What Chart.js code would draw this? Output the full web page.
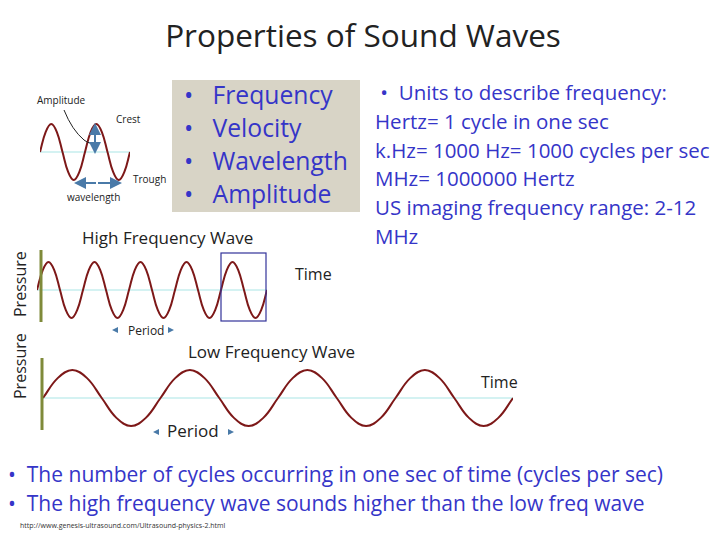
<!DOCTYPE html>
<html>
<head>
<meta charset="utf-8">
<script src="https://cdn.jsdelivr.net/npm/chart.js@4.4.1/dist/chart.umd.min.js"></script>
<style>
body { margin:0; width:720px; height:540px; background:#fff; position:relative; overflow:hidden; font-family:"Open Sans","Liberation Sans",sans-serif; }
.t { position:absolute; white-space:nowrap; }
.blue { color:#3535c8; }
canvas { position:absolute; }
</style>
</head>
<body>
<div class="t" style="left:0;width:726px;top:13px;text-align:center;font-size:31.5px;color:#222;">Properties of Sound Waves</div>

<div style="position:absolute;left:172px;top:80px;width:188px;height:132px;background:#d8d4c6;"></div>
<div class="t blue" style="left:184px;top:78px;font-size:24.7px;line-height:33px;">
•&nbsp;&nbsp;&nbsp;Frequency<br>•&nbsp;&nbsp;&nbsp;Velocity<br>•&nbsp;&nbsp;&nbsp;Wavelength<br>•&nbsp;&nbsp;&nbsp;Amplitude</div>
<div class="t blue" style="left:375px;top:78px;font-size:20.5px;line-height:28.8px;">
&nbsp;•&nbsp;&nbsp;Units to describe frequency:<br>Hertz= 1 cycle in one sec<br>k.Hz= 1000 Hz= 1000 cycles per sec<br>MHz= 1000000 Hertz<br>US imaging frequency range: 2-12<br>MHz</div>

<div class="t" style="left:37px;top:93px;font-size:10px;color:#222;">Amplitude</div>
<div class="t" style="left:116px;top:112px;font-size:10px;color:#222;">Crest</div>
<div class="t" style="left:133px;top:172px;font-size:10px;color:#222;">Trough</div>
<div class="t" style="left:67px;top:190px;font-size:10px;color:#222;">wavelength</div>

<div class="t" style="left:82px;top:226px;font-size:17px;color:#222;">High Frequency Wave</div>
<div class="t" style="left:295px;top:263px;font-size:16px;color:#222;">Time</div>
<div class="t" style="left:128px;top:322px;font-size:12px;color:#222;">Period</div>
<div class="t" style="left:188px;top:340px;font-size:17px;color:#222;">Low Frequency Wave</div>
<div class="t" style="left:481px;top:371px;font-size:16px;color:#222;">Time</div>
<div class="t" style="left:167px;top:419px;font-size:17px;color:#222;">Period</div>
<div class="t" style="left:-12px;top:274px;font-size:16px;color:#222;transform:rotate(-90deg);transform-origin:center;width:64px;text-align:center;">Pressure</div>
<div class="t" style="left:-12px;top:356px;font-size:16px;color:#222;transform:rotate(-90deg);transform-origin:center;width:64px;text-align:center;">Pressure</div>

<div class="t blue" style="left:8px;top:460px;font-size:21px;line-height:29px;">
•&nbsp;&nbsp;The number of cycles occurring in one sec of time (cycles per sec)<br>•&nbsp;&nbsp;The high frequency wave sounds higher than the low freq wave</div>
<div class="t" style="left:20px;top:521px;font-size:7px;color:#333;">http://www.genesis-ultrasound.com/Ultrasound-physics-2.html</div>

<canvas id="small"></canvas>
<canvas id="high"></canvas>
<canvas id="low"></canvas>

<svg width="720" height="540" style="position:absolute;left:0;top:0;pointer-events:none;">
  <defs>
    <marker id="ah" markerWidth="6" markerHeight="6" refX="5" refY="3" orient="auto"><path d="M0,0 L6,3 L0,6 z" fill="#4a7aa8"/></marker>
  </defs>
  <path d="M64,110 Q72,130 84,140 Q88,143 90,143" stroke="#222" fill="none" stroke-width="1"/>
  <line x1="95" y1="145" x2="95" y2="125" stroke="#4a7aa8" stroke-width="2" marker-end="url(#ah)"/>
  <line x1="95" y1="135" x2="95" y2="152" stroke="#4a7aa8" stroke-width="2" marker-end="url(#ah)"/>
  <line x1="96" y1="183" x2="76" y2="183" stroke="#4a7aa8" stroke-width="2" marker-end="url(#ah)"/>
  <line x1="98" y1="183" x2="120" y2="183" stroke="#4a7aa8" stroke-width="2" marker-end="url(#ah)"/>
  <line x1="41" y1="250" x2="41" y2="322" stroke="#7f8a3a" stroke-width="3"/>
  <rect x="221" y="253" width="45" height="68" fill="none" stroke="#333399" stroke-width="1.2"/>
  <path d="M112,330 L118,327 L118,333 z" fill="#4a7aa8"/>
  <path d="M174,330 L168,327 L168,333 z" fill="#4a7aa8"/>
  <line x1="42" y1="358" x2="42" y2="430" stroke="#7f8a3a" stroke-width="3"/>
  <path d="M153,432 L159,429 L159,435 z" fill="#4a7aa8"/>
  <path d="M234,432 L228,429 L228,435 z" fill="#4a7aa8"/>
</svg>

<script>
// sampled pressure values, 8 samples per cycle
var smallWave = [0,0.71,1,0.71,0,-0.71,-1,-0.71,0,0.71,1,0.71,0,-0.71,-1,-0.71,0];
var highWave = [0,0.71,1,0.71,0,-0.71,-1,-0.71,0,0.71,1,0.71,0,-0.71,-1,-0.71,0,0.71,1,0.71,0,-0.71,-1,-0.71,
    0,0.71,1,0.71,0,-0.71,-1,-0.71,0,0.71,1,0.71,0,-0.71,-1,-0.71,0];
var lowWave = [0,0.71,1,0.71,0,-0.71,-1,-0.71,0,0.71,1,0.71,0,-0.71,-1,-0.71,0,0.71,1,0.71,0,-0.71,-1,-0.71,
    0,0.71,1,0.71,0,-0.71,-1,-0.71,0];

function drawWave(id, values, left, width, center, amp) {
    var el = document.getElementById(id);
    var pad = 6;
    var h = (amp + pad) * 2;
    el.style.left = left + 'px';
    el.style.top = (center - h / 2) + 'px';
    el.style.width = width + 'px';
    el.style.height = h + 'px';
    var lim = (amp + pad) / amp;
    var labels = values.map((v, i) => i);
    new Chart(el, {
        type: 'line',
        data: {
            labels: labels,
            datasets: [{
                data: values,
                borderColor: '#7d1818',
                borderWidth: 2,
                pointRadius: 0,
                tension: 0.4,
                fill: false
            }, {
                data: values.map(v => 0),
                borderColor: '#c6eeee',
                borderWidth: 1.5,
                pointRadius: 0
            }]
        },
        options: {
            responsive: false,
            animation: false,
            maintainAspectRatio: false,
            layout: { padding: 0 },
            plugins: { legend: { display: false }, tooltip: { enabled: false } },
            scales: {
                x: { display: false, offset: false },
                y: { display: false, min: -lim, max: lim }
            }
        }
    });
}

drawWave('small', smallWave, 40, 90, 152, 28);
drawWave('high', highWave, 37, 230, 290, 28);
drawWave('low', lowWave, 43, 470, 398, 28);
</script>
</body>
</html>
